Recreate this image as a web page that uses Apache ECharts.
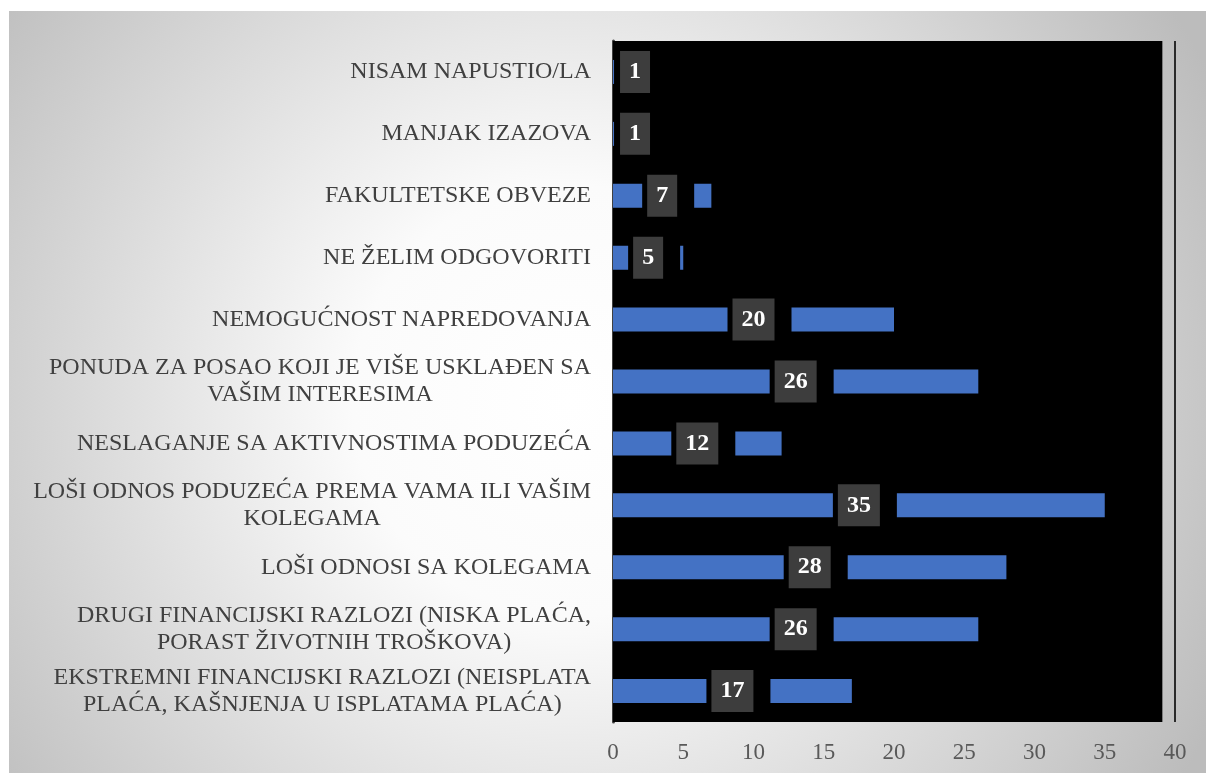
<!DOCTYPE html>
<html>
<head>
<meta charset="utf-8">
<script src="https://cdn.jsdelivr.net/npm/echarts@6/dist/echarts.min.js"></script>
<style>
  html, body { margin: 0; padding: 0; background: #fff; }
  #main { position: absolute; left: 9px; top: 11px; width: 1197px; height: 762px; }
</style>
</head>
<body>
<div id="main"></div>
<script>
// categories, top to bottom
var reasons = [
  'NISAM NAPUSTIO/LA',
  'MANJAK IZAZOVA',
  'FAKULTETSKE OBVEZE',
  'NE ŽELIM ODGOVORITI',
  'NEMOGUĆNOST NAPREDOVANJA',
  'PONUDA ZA POSAO KOJI JE VIŠE USKLAĐEN SA\nVAŠIM INTERESIMA',
  'NESLAGANJE SA AKTIVNOSTIMA PODUZEĆA',
  'LOŠI ODNOS PODUZEĆA PREMA VAMA ILI VAŠIM\nKOLEGAMA',
  'LOŠI ODNOSI SA KOLEGAMA',
  'DRUGI FINANCIJSKI RAZLOZI (NISKA PLAĆA,\nPORAST ŽIVOTNIH TROŠKOVA)',
  'EKSTREMNI FINANCIJSKI RAZLOZI (NEISPLATA\nPLAĆA, KAŠNJENJA U ISPLATAMA PLAĆA)'
];
var counts = [1, 1, 7, 5, 20, 26, 12, 35, 28, 26, 17];
var axisMax = 40;
var axisStep = 5;

var serif = 'Times New Roman, Liberation Serif, serif';

var barData = counts.map(function (v) {
  // tiny bars: excel pushes the label inside the plot
  if (v <= 2) {
    return { value: v, label: { offset: [20.5, 0], padding: [14, 17, 14, 6] } };
  }
  return { value: v, label: { offset: [6, 0] } };
});

var myChart = echarts.init(document.getElementById('main'));
myChart.setOption({
  animation: false,
  backgroundColor: {
    type: 'radial', x: 560, y: 390, r: 720, global: true,
    colorStops: [
      { offset: 0, color: '#ffffff' },
      { offset: 0.3, color: '#fbfbfb' },
      { offset: 1, color: '#bcbcbc' }
    ]
  },
  grid: { left: 604, right: 31, top: 30, bottom: 51 },
  xAxis: {
    type: 'value',
    min: 0,
    max: axisMax,
    interval: axisStep,
    axisLine: { show: false },
    axisTick: { show: false },
    splitLine: { show: false },
    axisLabel: {
      margin: 19,
      color: '#595959',
      fontSize: 23,
      fontFamily: serif
    }
  },
  yAxis: {
    type: 'category',
    inverse: true,
    data: reasons,
    offset: 2,
    axisLine: { lineStyle: { color: '#404040', width: 3 } },
    axisTick: { length: 5, lineStyle: { color: '#404040', width: 3 } },
    axisLabel: {
      interval: 0,
      margin: 20,
      align: 'right',
      formatter: function (v) {
        return v.split('\n').map(function (l) { return '{c|' + l + '}'; }).join('\n');
      },
      rich: {
        c: {
          align: 'center',
          color: '#404040',
          fontSize: 24,
          lineHeight: 27,
          fontFamily: serif
        }
      }
    }
  },
  series: [{
    type: 'bar',
    data: barData,
    barWidth: 24,
    itemStyle: { color: '#4472C4' },
    label: {
      show: true,
      position: 'inside',
      backgroundColor: '#000',
      padding: [14, 17, 14, 5],
      formatter: '{b|{c}}',
      rich: {
        b: {
          color: '#fff',
          fontSize: 24,
          fontWeight: 'bold',
          fontFamily: serif,
          lineHeight: 22,
          backgroundColor: '#3d3d3d',
          padding: [9, 9, 9, 9]
        }
      }
    },
    markArea: {
      silent: true,
      itemStyle: { color: '#000' },
      data: [[{ xAxis: 0 }, { xAxis: 39.1 }]]
    },
    markLine: {
      silent: true,
      symbol: 'none',
      label: { show: false },
      lineStyle: { color: '#2a2a2a', width: 2, type: 'solid' },
      data: [{ xAxis: axisMax }]
    }
  }]
});
window.addEventListener('resize', function () {
  myChart.resize();
});
</script>
</body>
</html>
